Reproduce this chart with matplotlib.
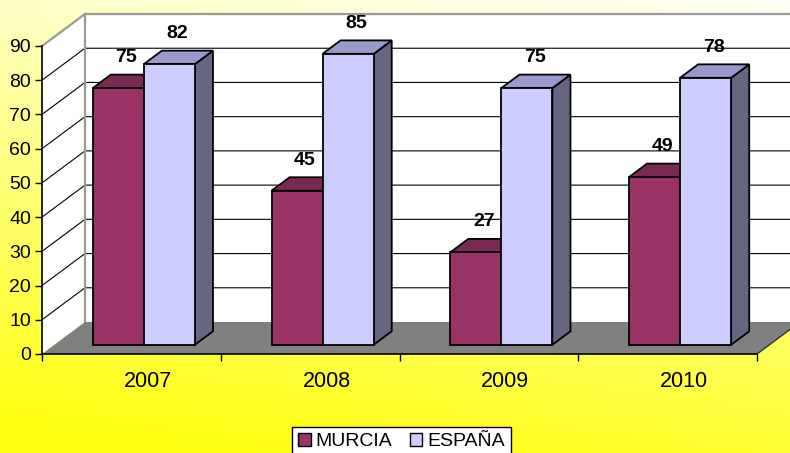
import matplotlib.pyplot as plt
import numpy as np
from matplotlib.patches import Polygon, Patch
from matplotlib.transforms import ScaledTranslation

plt.rcParams['font.family'] = ['Liberation Sans', 'DejaVu Sans']

years = ['2007', '2008', '2009', '2010']
murcia = [75, 45, 27, 49]
espana = [82, 85, 75, 78]

# depth vector of the fake 3d box, in data units (categories, value)
DX = 0.2406
DY = 9.35
D0, D1 = 0.29, 0.71  # bar depth range
W = 0.2857           # bar width in category units


def p3(x, y, d):
    return (x + d * DX, y + d * DY)


fig = plt.figure(figsize=(7.9, 4.53), dpi=100)

# yellow gradient background
bg = fig.add_axes([0, 0, 1, 1], zorder=-10)
yy = np.linspace(0, 1, 200)[:, None]
xx = np.linspace(0, 1, 200)[None, :]
t = np.clip(0.85 * yy + 0.2 * (1 - xx), 0, 1)
img = np.zeros((200, 200, 3))
img[..., 0] = 1.0
img[..., 1] = 1.0
img[..., 2] = 0.96 - 0.9 * t
bg.imshow(np.clip(img, 0, 1), aspect='auto', extent=[0, 1, 0, 1], origin='upper')
bg.axis('off')

ax = fig.add_axes([42 / 790, (453 - 354) / 453, 715 / 790, 308 / 453])
ax.set_facecolor('none')
ax.set_xlim(0, 4)
ax.set_ylim(0, 90)

n = len(years)
top = 90

# floor
floor = Polygon([p3(0, 0, 0), p3(n, 0, 0), p3(n, 0, 1), p3(0, 0, 1)],
                closed=True, facecolor='#808080', edgecolor='none', clip_on=False, zorder=0.5)
ax.add_patch(floor)
ax.plot(*zip(p3(n, 0, 0), p3(n, 0, 1)), color='#333333', lw=1, clip_on=False, zorder=0.6)

# back wall
back = Polygon([p3(0, 0, 1), p3(n + 0.5, 0, 1), p3(n + 0.5, top, 1), p3(0, top, 1)],
               closed=True, facecolor='white', edgecolor='none', clip_on=False, zorder=0.4)
ax.add_patch(back)
# side wall
side = Polygon([p3(0, 0, 0), p3(0, 0, 1), p3(0, top, 1), p3(0, top, 0)],
               closed=True, facecolor='white', edgecolor='none', clip_on=False, zorder=0.4)
ax.add_patch(side)

# wall grid
for v in range(10, top, 10):
    ax.plot(*zip(p3(0, v, 0), p3(0, v, 1), p3(n + 0.5, v, 1)), color='black', lw=0.8,
            clip_on=False, zorder=0.45)
# grey outer edges of walls
ax.plot(*zip(p3(0, top, 0), p3(0, top, 1), p3(n + 0.5, top, 1)), color='#999999', lw=1.6,
        clip_on=False, zorder=0.45)
ax.plot(*zip(p3(0, 0, 1), p3(0, top, 1)), color='#999999', lw=1.6, clip_on=False, zorder=0.45)

series = [
    (murcia, -W, '#993366', '#7A2952', '#5C1F3D'),
    (espana, 0.0, '#CCCCFF', '#9999CC', '#666680'),
]

for i in range(n):
    c = i + 0.5
    for vals, off, fc, tc, sc in series:
        v = vals[i]
        xl = c + off
        xr = xl + W
        sidef = Polygon([p3(xr, 0, D0), p3(xr, 0, D1), p3(xr, v, D1), p3(xr, v, D0)],
                        closed=True, facecolor=sc, edgecolor='black', lw=1.3,
                        clip_on=False, zorder=2)
        topf = Polygon([p3(xl, v, D0), p3(xr, v, D0), p3(xr, v, D1), p3(xl, v, D1)],
                       closed=True, facecolor=tc, edgecolor='black', lw=1.3,
                       clip_on=False, zorder=2)
        ax.add_patch(sidef)
        ax.add_patch(topf)
        ax.bar(xl + D0 * DX, v, width=W, bottom=D0 * DY, align='edge',
               color=fc, edgecolor='black', lw=1.3, zorder=2, clip_on=False)
        lx, ly = p3(c + off + W / 2, v, 0.5)
        ax.annotate(str(v), (lx, ly), xytext=(-1, 24), textcoords='offset pixels',
                    ha='center', va='center', fontsize=14, fontweight='bold',
                    annotation_clip=False, zorder=5)

# axes
for s in ['top', 'right']:
    ax.spines[s].set_visible(False)
for s in ['left', 'bottom']:
    ax.spines[s].set_color('black')
    ax.spines[s].set_linewidth(1.2)
    ax.spines[s].set_zorder(3)

ax.set_yticks(range(0, 91, 10))
ax.tick_params(axis='y', direction='out', length=5, width=1, pad=3, labelsize=14)

ax.set_xticks([i + 0.5 for i in range(n)], years)
ax.set_xticks(range(n + 1), minor=True)
ax.tick_params(axis='x', which='major', length=0, pad=12, labelsize=15.5)
ax.tick_params(axis='x', which='minor', direction='out', length=5, width=1)
for lab in ax.get_xticklabels():
    lab.set_transform(lab.get_transform() + ScaledTranslation(0.165, 0, fig.dpi_scale_trans))

handles = [Patch(facecolor='#993366', edgecolor='black', label='MURCIA'),
           Patch(facecolor='#CCCCFF', edgecolor='black', label='ESPAÑA')]
leg = fig.legend(handles=handles, loc='upper center', bbox_to_anchor=(0.508, 1 - 427 / 453),
                 ncol=2, fontsize=14, frameon=True, fancybox=False, edgecolor='black',
                 framealpha=1, handlelength=0.65, handleheight=0.65, handletextpad=0.25,
                 columnspacing=0.9, borderpad=0.3, borderaxespad=0)
leg.get_frame().set_linewidth(1)

fig.savefig('out.png', dpi=100)
